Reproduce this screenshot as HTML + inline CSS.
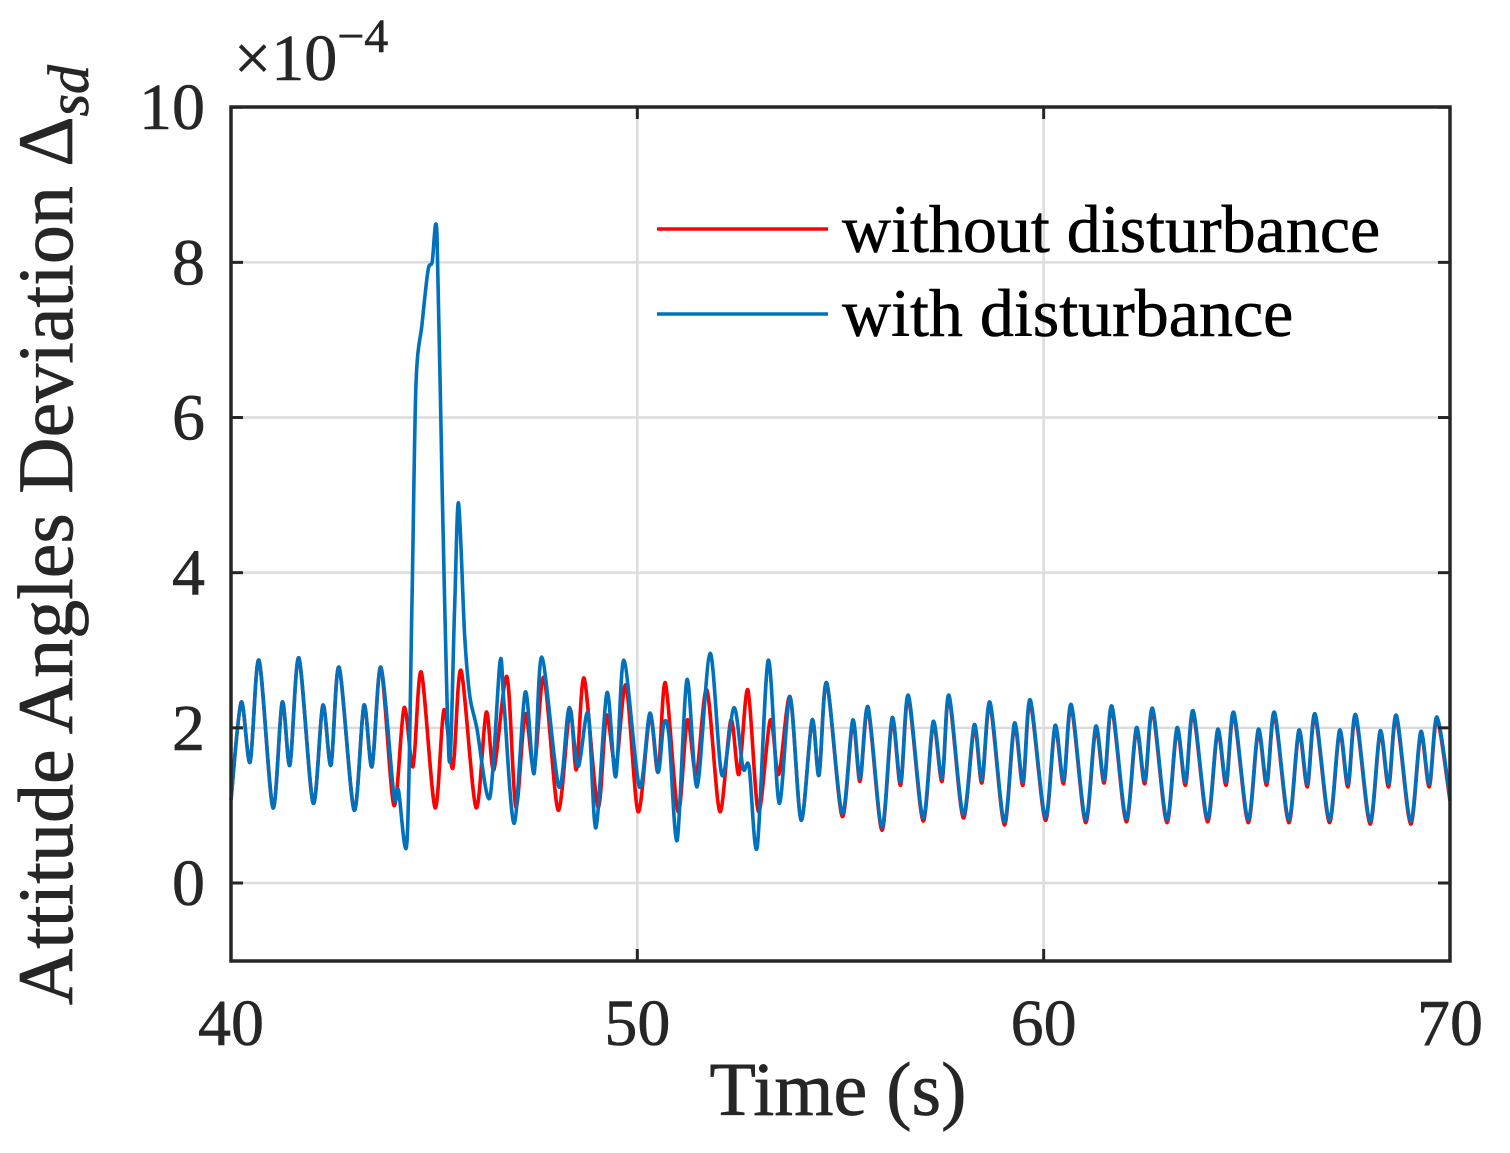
<!DOCTYPE html>
<html><head><meta charset="utf-8"><style>
html,body{margin:0;padding:0;background:#fff;}
svg{display:block;font-family:"Liberation Serif",serif;}
</style></head><body>
<svg id="chart" width="1510" height="1153" viewBox="0 0 1510 1153">
<g id="grid"></g>
<g id="series"></g>
<rect x="231" y="107" width="1219" height="854" fill="none" stroke="#262626" stroke-width="3.5"/>
<g id="ticks"></g>
<text x="234" y="80" font-size="66" fill="#262626" stroke="#262626" stroke-width="0.6">×10<tspan dy="-28" font-size="48">−4</tspan></text>
<text transform="translate(72,535) rotate(-90)" text-anchor="middle" font-size="78" fill="#262626" stroke="#262626" stroke-width="0.7">Attitude Angles Deviation Δ<tspan font-style="italic" font-size="58" dy="16">sd</tspan></text>
<text x="838" y="1115" text-anchor="middle" font-size="76" fill="#262626" stroke="#262626" stroke-width="0.7">Time (s)</text>
<g>
<line x1="657" y1="229" x2="828" y2="229" stroke="#ff0000" stroke-width="3.5"/>
<text x="842" y="252" font-size="68" fill="#000" stroke="#000" stroke-width="0.6">without disturbance</text>
<line x1="657" y1="314" x2="828" y2="314" stroke="#0072BD" stroke-width="3.5"/>
<text x="842" y="336" font-size="68" fill="#000" stroke="#000" stroke-width="0.6">with disturbance</text>
</g>
</svg>
<script>
const xTicks=[40,50,60,70];
const yTicks=[0,2,4,6,8,10];
const yTickLabels=["0","2","4","6","8","10"];
const blueT=[40.0,40.25,40.47,40.69,41.03,41.26,41.45,41.67,42.02,42.26,42.46,42.66,43.03,43.27,43.47,43.69,44.01,44.12,44.33,44.45,44.55,44.7,44.85,44.95,45.07,45.2,45.37,45.5,45.6,45.75,45.88,46.05,46.37,46.62,46.72,46.97,47.24,47.46,47.65,48.07,48.32,48.54,48.79,48.98,49.25,49.47,49.67,50.05,50.31,50.51,50.65,50.78,50.98,51.22,51.47,51.79,52.08,52.38,52.6,52.75,52.95,53.22,53.49,53.76,54.03,54.3,54.47,54.66,55.04,55.3,55.48,55.68,56.02,56.27,56.48,56.67,57.03,57.28,57.5,57.67,58.02,58.29,58.48,58.68,59.03,59.28,59.49,59.67,60.04,60.28,60.49,60.68,61.03,61.28,61.49,61.68,62.03,62.28,62.49,62.68,63.03,63.28,63.49,63.68,64.03,64.28,64.49,64.68,65.03,65.28,65.49,65.68,66.03,66.28,66.49,66.68,67.03,67.28,67.49,67.68,68.03,68.28,68.49,68.68,69.03,69.28,69.49,69.68,70.0];
const blueV=[1.07,2.33,1.56,2.87,0.97,2.33,1.52,2.9,1.03,2.29,1.52,2.78,0.94,2.29,1.5,2.78,1.13,1.2,0.52,3.5,6.4,7.2,7.9,8.0,8.35,5.0,1.58,3.5,4.9,3.2,2.4,2.0,1.1,2.85,2.3,0.77,2.46,1.41,2.91,1.24,2.26,1.5,2.19,0.71,2.45,1.37,2.87,1.24,2.19,1.43,2.05,1.9,0.55,2.62,1.24,2.96,1.39,2.26,1.48,1.5,0.46,2.87,1.03,2.4,0.81,2.1,1.39,2.58,0.9,2.1,1.35,2.27,0.72,2.13,1.3,2.42,0.84,2.08,1.35,2.42,0.88,2.04,1.33,2.33,0.79,2.06,1.3,2.36,0.85,2.03,1.32,2.3,0.82,2.02,1.33,2.28,0.83,2.0,1.32,2.25,0.82,2.0,1.3,2.22,0.83,1.98,1.3,2.2,0.82,1.98,1.3,2.2,0.82,1.97,1.28,2.18,0.82,1.97,1.28,2.17,0.8,1.96,1.28,2.16,0.8,1.95,1.28,2.14,1.1];
const redSegT=[44.01,44.26,44.48,44.68,45.02,45.24,45.46,45.66,46.03,46.28,46.47,46.79,47.01,47.24,47.46,47.7,48.05,48.34,48.5,48.69,49.03,49.24,49.47,49.72,50.02,50.31,50.51,50.69,51.0,51.23,51.45,51.71,52.03,52.3,52.5,52.72,52.98,53.27,53.48];
const redSegV=[1.0,2.26,1.5,2.72,0.97,2.23,1.48,2.74,0.97,2.2,1.46,2.66,0.98,2.18,1.46,2.65,0.94,2.23,1.46,2.64,0.98,2.16,1.5,2.55,0.92,2.15,1.43,2.58,0.92,2.1,1.4,2.49,0.92,2.1,1.4,2.49,0.92,2.1,1.4];
const X=t=>231+(t-40)*(1219/30);
const Y=v=>883-v*77.58;
const NS="http://www.w3.org/2000/svg";
const grid=document.getElementById('grid'),ticks=document.getElementById('ticks'),series=document.getElementById('series');
function mk(tag,attrs,parent){const e=document.createElementNS(NS,tag);for(const k in attrs)e.setAttribute(k,attrs[k]);parent.appendChild(e);return e;}
xTicks.forEach(t=>{
  const g=mk('line',{x1:X(t),x2:X(t),y1:107,y2:961,stroke:'#dcdcdc','stroke-width':2.5},grid);
  
  
  const a=mk('line',{x1:X(t),x2:X(t),y1:961,y2:949,stroke:'#262626','stroke-width':3},ticks);
  
  
  const b=mk('line',{x1:X(t),x2:X(t),y1:107,y2:119,stroke:'#262626','stroke-width':3},ticks);
  
  
  const l=mk('text',{x:X(t),y:1045,'text-anchor':'middle','font-size':66,fill:'#262626',stroke:'#262626','stroke-width':0.6},ticks);
  l.textContent=String(t);
  
  
});
yTicks.forEach((v,i)=>{
  const g=mk('line',{x1:231,x2:1450,y1:Y(v),y2:Y(v),stroke:'#dcdcdc','stroke-width':2.5},grid);
  
  
  const a=mk('line',{x1:231,x2:243,y1:Y(v),y2:Y(v),stroke:'#262626','stroke-width':3},ticks);
  
  
  const b=mk('line',{x1:1438,x2:1450,y1:Y(v),y2:Y(v),stroke:'#262626','stroke-width':3},ticks);
  
  
  const l=mk('text',{x:205,y:Y(v)+22,'text-anchor':'end','font-size':66,fill:'#262626',stroke:'#262626','stroke-width':0.6},ticks);
  l.textContent=yTickLabels[i];
  
  
});
function pathFrom(T,V){
  const p=T.map((t,i)=>[X(t),Y(V[i])]);
  let d='M'+p[0][0].toFixed(1)+','+p[0][1].toFixed(1);
  for(let i=0;i<p.length-1;i++){
    const p0=p[Math.max(0,i-1)],p1=p[i],p2=p[i+1],p3=p[Math.min(p.length-1,i+2)];
    const k=0.15;
    const c1=[p1[0]+(p2[0]-p0[0])*k,p1[1]+(p2[1]-p0[1])*k];
    const c2=[p2[0]-(p3[0]-p1[0])*k,p2[1]-(p3[1]-p1[1])*k];
    d+=' C'+c1.map(n=>n.toFixed(1)).join(',')+' '+c2.map(n=>n.toFixed(1)).join(',')+' '+p2[0].toFixed(1)+','+p2[1].toFixed(1);
  }
  return d;
}
const redT=[],redV=[];
blueT.forEach((t,i)=>{if(t<44.01){redT.push(t);redV.push(blueV[i]);}});
redSegT.forEach((t,i)=>{redT.push(t);redV.push(redSegV[i]);});
blueT.forEach((t,i)=>{if(t>53.6){redT.push(t);redV.push(blueV[i]-(t>55?0.04:0));}});
const r=mk('path',{d:pathFrom(redT,redV),fill:'none',stroke:'#ff0000','stroke-width':3.6,'stroke-linejoin':'round'},series);


const b=mk('path',{d:pathFrom(blueT,blueV),fill:'none',stroke:'#0072BD','stroke-width':3.6,'stroke-linejoin':'round'},series);


</script>
</body></html>
